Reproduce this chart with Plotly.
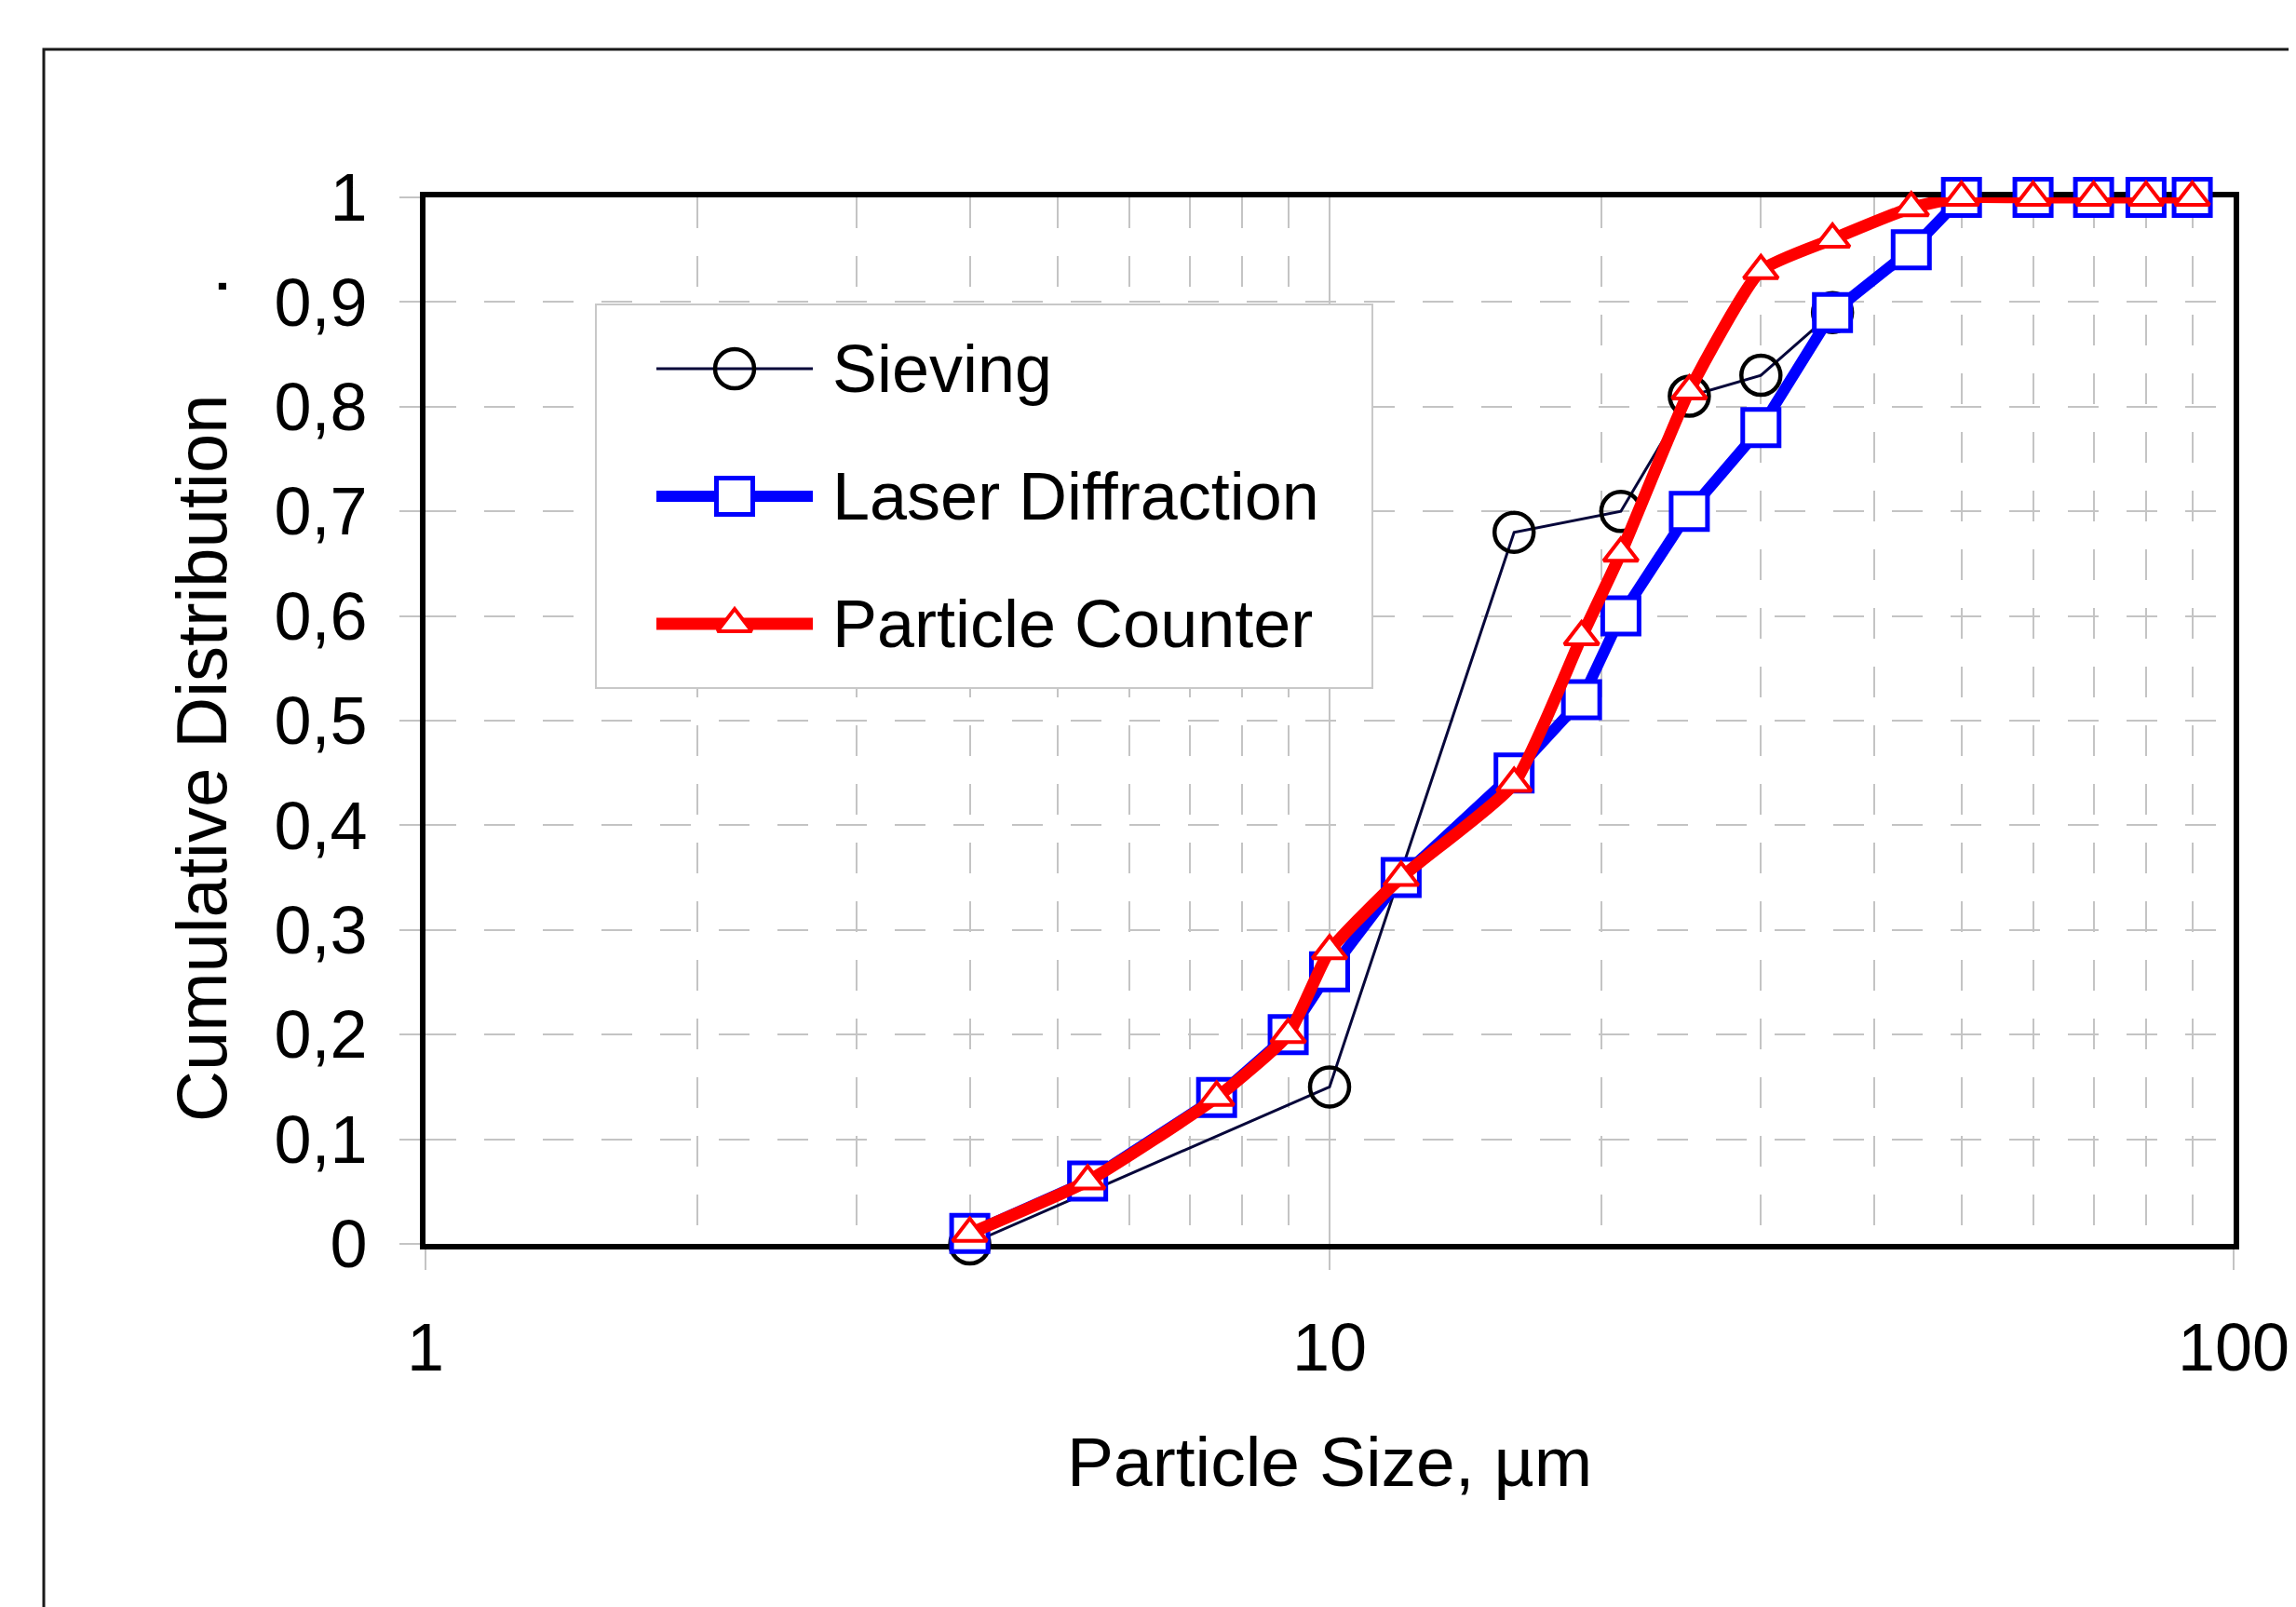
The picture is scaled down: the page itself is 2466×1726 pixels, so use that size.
import plotly.graph_objects as go

# ---- data ----
series_names = ["Sieving", "Laser Diffraction", "Particle Counter"]

sieving_x = [4, 10, 16, 21, 25, 30, 36]
sieving_y = [0.0, 0.15, 0.68, 0.70, 0.81, 0.83, 0.89]

laser_x = [4, 5.4, 7.5, 9, 10, 12, 16, 19, 21, 25, 30, 36, 44, 50, 60, 70, 80, 90]
laser_y = [0.01, 0.06, 0.14, 0.20, 0.26, 0.35, 0.45, 0.52, 0.60, 0.70, 0.78, 0.89, 0.95, 1.0, 1.0, 1.0, 1.0, 1.0]

counter_x = [4, 5.4, 7.5, 9, 10, 12, 16, 19, 21, 25, 30, 36, 44, 50, 60, 70, 80, 90]
counter_y = [0.01, 0.06, 0.14, 0.20, 0.28, 0.35, 0.44, 0.58, 0.66, 0.815, 0.93, 0.96, 0.99, 1.0, 1.0, 1.0, 1.0, 1.0]

y_tickvals = [0, 0.1, 0.2, 0.3, 0.4, 0.5, 0.6, 0.7, 0.8, 0.9, 1.0]
y_ticktext = ["0", "0,1", "0,2", "0,3", "0,4", "0,5", "0,6", "0,7", "0,8", "0,9", "1"]
x_tickvals = [1, 10, 100]
x_ticktext = ["1", "10", "100"]

FONT = "Liberation Sans, Arial, sans-serif"
W, H = 2466, 1726
L, R, T, B = 449, 75, 204, 398
PW, PH = W - L - R, H - T - B


def px2paper_x(px):
    return (px - L) / PW


def px2paper_y(py):
    return (H - B - py) / PH


styles = [
    dict(line=dict(color="#06063a", width=3),
         marker=dict(symbol="circle-open", size=42, color="#000000", line=dict(width=4.5))),
    dict(line=dict(color="#0000ff", width=12),
         marker=dict(symbol="square", size=39, color="#ffffff", line=dict(color="#0000ff", width=5))),
    dict(line=dict(color="#ff0000", width=13, shape="spline", smoothing=0.5),
         marker=dict(symbol="triangle-up", size=32, color="#ffffff", line=dict(color="#ff0000", width=4))),
]
data = [(sieving_x, sieving_y), (laser_x, laser_y), (counter_x, counter_y)]

fig = go.Figure()
for name, (xs, ys), st in zip(series_names, data, styles):
    fig.add_trace(go.Scatter(
        x=xs, y=ys, name=name, mode="lines+markers",
        line=st["line"], marker=st["marker"], cliponaxis=False, showlegend=False,
    ))

grid_col = "#c4c4c4"

fig.update_layout(
    xaxis=dict(
        domain=[0, 1], type="log", range=[0, 2],
        tickvals=x_tickvals, ticktext=x_ticktext,
        showline=True, linecolor="#000000", linewidth=6, mirror=True,
        showgrid=True, gridcolor=grid_col, gridwidth=2,
        ticks="outside", ticklen=22, tickwidth=2, tickcolor=grid_col,
        tickfont=dict(family=FONT, size=72, color="#000000"),
        ticklabelstandoff=22,
        minor=dict(dtick="D1", showgrid=True, gridcolor=grid_col, gridwidth=2,
                   griddash="33px,30px", ticks=""),
        zeroline=False, layer="below traces",
    ),
    yaxis=dict(
        domain=[0, 1], range=[0, 1],
        tickvals=y_tickvals, ticktext=y_ticktext,
        showline=True, linecolor="#000000", linewidth=6, mirror=True,
        showgrid=True, gridcolor=grid_col, gridwidth=2, griddash="33px,30px",
        ticks="outside", ticklen=22, tickwidth=2, tickcolor=grid_col,
        tickfont=dict(family=FONT, size=72, color="#000000"),
        ticklabelstandoff=20,
        zeroline=False, layer="below traces",
    ),
)

# ---- legend (drawn as its own small subplot so symbols keep full size) ----
LG = dict(left=632, top=319, width=834, height=412, pad=4,
          rows=[69, 206, 343], line_x=[65, 233], text_x=252)
fig.update_layout(
    xaxis2=dict(domain=[px2paper_x(LG["left"] - LG["pad"]), px2paper_x(LG["left"] + LG["width"] + LG["pad"])],
                range=[-LG["pad"], LG["width"] + LG["pad"]], anchor="y2", visible=False, fixedrange=True),
    yaxis2=dict(domain=[px2paper_y(LG["top"] + LG["height"] + LG["pad"]), px2paper_y(LG["top"] - LG["pad"])],
                range=[LG["height"] + LG["pad"], -LG["pad"]], anchor="x2", visible=False, fixedrange=True),
)
fig.add_shape(type="rect", xref="x2", yref="y2", x0=0, x1=LG["width"], y0=0, y1=LG["height"],
              line=dict(color="#c8c8c8", width=2), fillcolor="#ffffff", layer="below")
for name, st, ry in zip(series_names, styles, LG["rows"]):
    lx0, lx1 = LG["line_x"]
    fig.add_trace(go.Scatter(
        x=[lx0, lx1], y=[ry, ry], xaxis="x2", yaxis="y2", mode="lines",
        line=dict(color=st["line"]["color"], width=st["line"]["width"]),
        showlegend=False, hoverinfo="skip", cliponaxis=False,
    ))
    fig.add_trace(go.Scatter(
        x=[(lx0 + lx1) / 2], y=[ry], xaxis="x2", yaxis="y2", mode="markers",
        marker=st["marker"], showlegend=False, hoverinfo="skip", cliponaxis=False,
    ))
    fig.add_annotation(text=name, xref="x2", yref="y2", x=LG["text_x"], y=ry,
                       xanchor="left", yanchor="middle", showarrow=False,
                       font=dict(family=FONT, size=72, color="#000000"))

fig.add_annotation(
    text="Particle Size, µm", xref="paper", yref="paper",
    x=0.5, y=px2paper_y(1562), xanchor="center", yanchor="middle",
    showarrow=False, font=dict(family=FONT, size=75, color="#000000"),
)
fig.add_annotation(
    text="Cumulative Distribution" + "\u00a0" * 5 + ".", xref="paper", yref="paper",
    x=px2paper_x(208), y=px2paper_y(743), xanchor="center", yanchor="middle",
    textangle=-90, showarrow=False, font=dict(family=FONT, size=76, color="#000000"),
)

# outer chart frame
fig.add_shape(type="rect", xref="paper", yref="paper",
              x0=px2paper_x(39), x1=px2paper_x(2520),
              y0=px2paper_y(1790), y1=px2paper_y(45),
              line=dict(color="#1a1a1a", width=3), fillcolor="rgba(0,0,0,0)", layer="above")

fig.update_layout(
    width=W, height=H,
    margin=dict(l=L, r=R, t=T, b=B),
    paper_bgcolor="#ffffff", plot_bgcolor="rgba(0,0,0,0)",
    font=dict(family=FONT, size=72, color="#000000"),
    showlegend=False,
)

fig.write_html("out.html")
